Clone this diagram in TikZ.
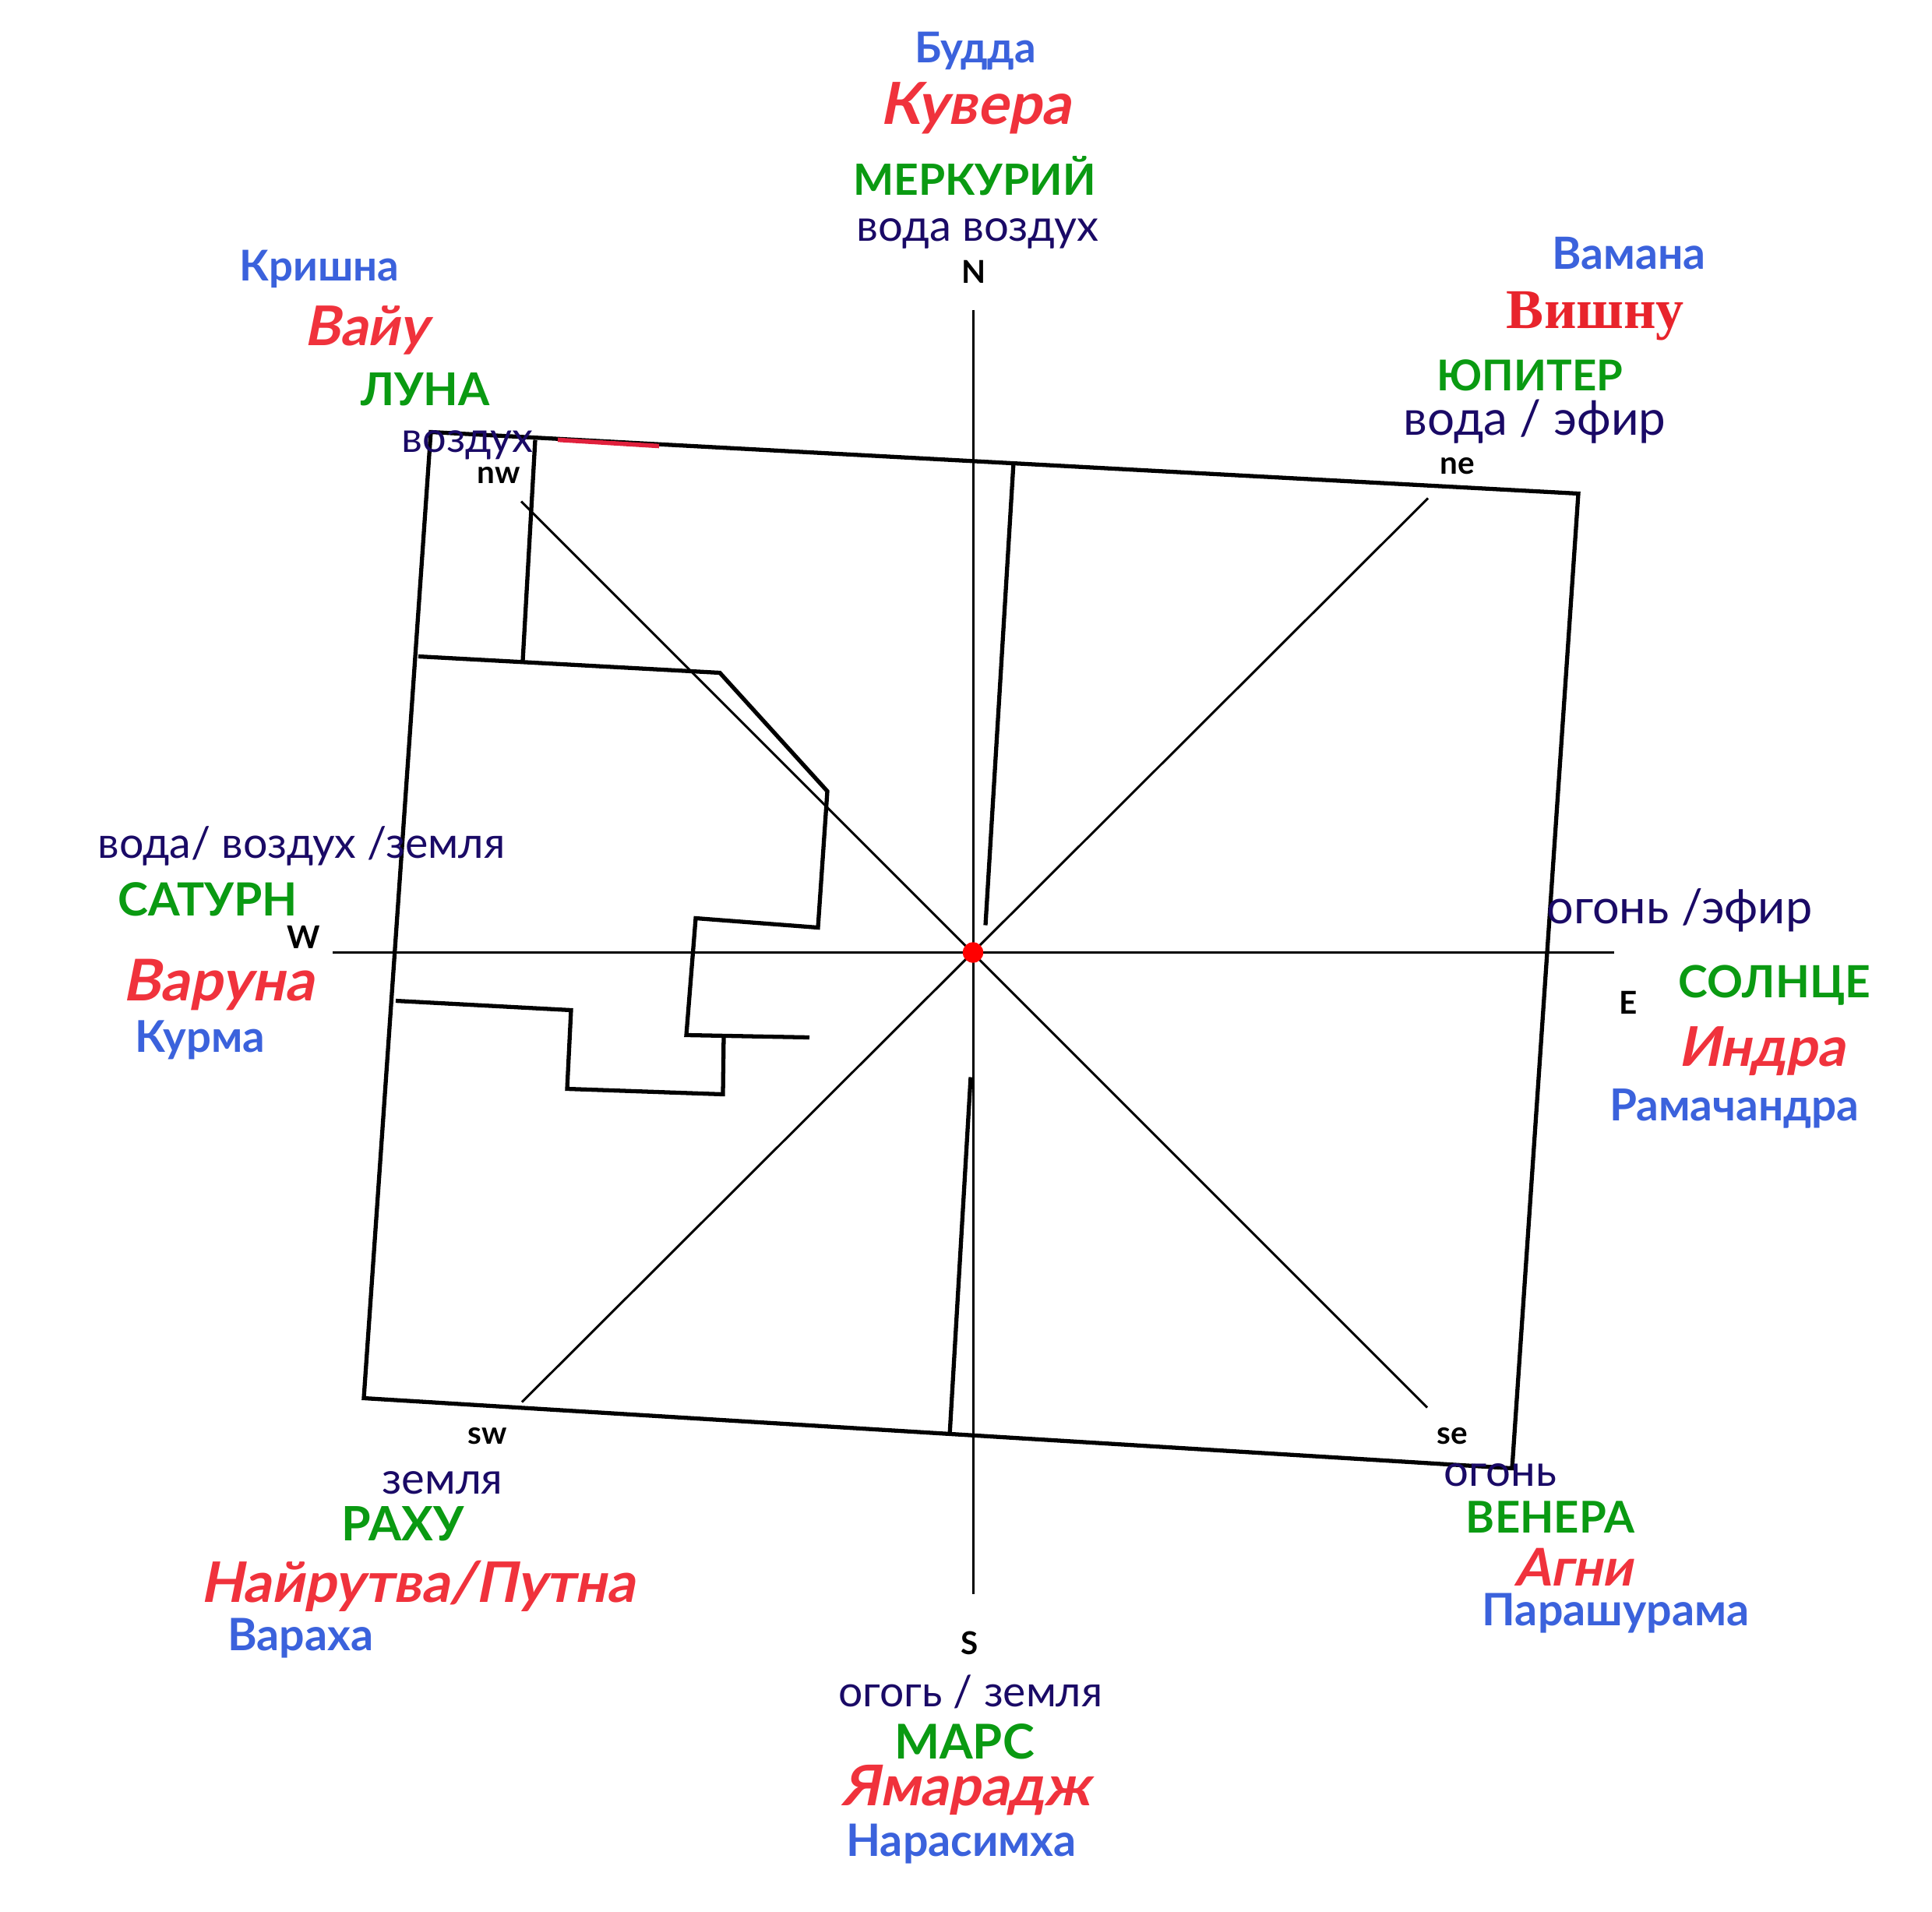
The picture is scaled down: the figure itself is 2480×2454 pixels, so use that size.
\documentclass[tikz,border=0pt]{standalone}
\usepackage{fontspec}
\setmainfont{Lato}
\newfontfamily\serifhead{Liberation Serif}
\newfontfamily\slanthead[FakeSlant=0.2]{Lato}
\definecolor{DeityRed}{HTML}{F0323C}
\definecolor{VishnuRed}{HTML}{E8242C}
\definecolor{AvatarBlue}{HTML}{3B62DC}
\definecolor{PlanetGreen}{HTML}{0A9A12}
\definecolor{ElementNavy}{HTML}{1A0A66}
\definecolor{MarkRed}{HTML}{E0203C}
\begin{document}
\begin{tikzpicture}
[
x=0.01cm, y=-0.01cm,
Thickline/.style={draw=black, line width=1.5pt, line join=miter},
Thinline/.style={draw=black, line width=0.85pt},
Avatar/.style={anchor=base, inner sep=0pt, text=AvatarBlue, font=\fontsize{#1}{18}\selectfont\bfseries},
Avatar/.default=16.3,
Deity/.style={anchor=base, inner sep=0pt, text=DeityRed, font=\fontsize{#1}{24}\slanthead\bfseries},
Deity/.default=20,
Planet/.style={anchor=base, inner sep=0pt, text=PlanetGreen, font=\fontsize{#1}{20}\selectfont\bfseries},
Planet/.default=16,
Element/.style={anchor=base, inner sep=0pt, yshift=-0.3pt, text=ElementNavy, font=\fontsize{#1}{18}\selectfont},
Element/.default=15.7,
Compass/.style={anchor=base, inner sep=0pt, text=black, font=\fontsize{11.5}{13}\selectfont\bfseries},
]

\useasboundingbox (0,-1.5) rectangle (2480,2452.5);

\coordinate (North) at (1249,396);
\coordinate (South) at (1249,2044);
\coordinate (West) at (427,1221);
\coordinate (East) at (2072,1221);
\coordinate (NorthWest) at (669,642);
\coordinate (NorthEast) at (1833,638);
\coordinate (SouthWest) at (670,1798);
\coordinate (SouthEast) at (1832,1805);

% axes
\draw[Thinline] (North)--(South);
\draw[Thinline] (West)--(East);
\draw[Thinline] (NorthWest)--(SouthEast);
\draw[Thinline] (SouthWest)--(NorthEast);

% plot
\draw[Thickline] (553,553)--(2026,632)--(1941,1883)--(467,1793)--cycle;
\draw[Thickline] (687,563)--(671,847);
\draw[Thickline] (537,841)--(924,862)--(1062,1014)--(1050,1189)--(893,1177)--(881,1327)--(1039,1330);
\draw[Thickline] (929,1328)--(928,1403)--(728,1396)--(733,1295)--(508,1283);
\draw[Thickline] (1301,592)--(1265,1186);
\draw[Thickline] (1246,1381)--(1219,1841);
\draw[MarkRed, line width=1.6pt] (716,563)--(846,571);

\node[circle, fill=red, inner sep=0pt, minimum size=7.5pt] (Centre) at (1249,1221) {};

% north
\node[Avatar=15.5] (budda) at (1252,79) {Будда};
\node[Deity=21.2] (kubera) at (1252,158) {Кувера};
\node[Planet=15.7] (mercury) at (1251,249) {МЕРКУРИЙ};
\node[Element=16] (elemN) at (1255,307) {вода воздух};
\node[Compass] (labN) at (1250,362) {N};

% north west
\node[Avatar=15.5] (krishna) at (410,359) {Кришна};
\node[Deity] (vayu) at (470,442) {Вайу};
\node[Planet=16.5] (moon) at (546,519) {ЛУНА};
\node[Element=15.4] (elemNW) at (600,578) {воздух};
\node[Compass] (labNW) at (640,619) {nw};

% north east
\node[Avatar=16.2] (vamana) at (2091,344) {Вамана};
\node[anchor=base, inner sep=0pt, text=VishnuRed, font=\fontsize{20.5}{22}\serifhead\bfseries] (vishnu) at (2048,420) {Вишну};
\node[Planet=15.5] (jupiter) at (1964,500) {ЮПИТЕР};
\node[Element=17.6] (elemNE) at (1970,556) {вода / эфир};
\node[Compass] (labNE) at (1871,607) {ne};

% west
\node[Element=15.8] (elemW) at (387,1099) {вода/ воздух /земля};
\node[Planet=16.7] (saturn) at (267,1174) {САТУРН};
\node[Compass] (labW) at (390,1216) {W};
\node[Deity=21] (varuna) at (280,1283) {Варуна};
\node[Avatar=16] (kurma) at (257,1349) {Курма};

% east
\node[Element=17.4] (elemE) at (2156,1183) {огонь /эфир};
\node[Planet=16.2] (sun) at (2278,1279) {СОЛНЦЕ};
\node[Compass] (labE) at (2090,1300) {E};
\node[Deity] (indra) at (2261,1367) {Индра};
\node[Avatar=16.1] (rama) at (2226,1437) {Рамачандра};

% south west
\node[Compass] (labSW) at (626,1852) {sw};
\node[Element=16] (elemSW) at (568,1915) {земля};
\node[Planet=17.3] (rahu) at (517,1976) {РАХУ};
\node[Deity=20.4] (nairuta) at (536,2055) {Найрутва/Путна};
\node[Avatar] (varaha) at (386,2117) {Вараха};

% south
\node[Compass] (labS) at (1245,2122) {S};
\node[Element] (elemS) at (1246,2188) {огогь / земля};
\node[Planet=17.5] (mars) at (1238,2256) {МАРС};
\node[Deity=20.5] (yama) at (1240,2316) {Ямарадж};
\node[Avatar] (narasimha) at (1234,2381) {Нарасимха};

% south east
\node[Compass] (labSE) at (1864,1852) {se};
\node[Element=16] (elemSE) at (1926,1905) {огонь};
\node[Planet=16] (venus) at (1990,1966) {ВЕНЕРА};
\node[Deity=19] (agni) at (2020,2034) {Агни};
\node[Avatar] (parashu) at (2074,2085) {Парашурама};

\end{tikzpicture}
\end{document}
